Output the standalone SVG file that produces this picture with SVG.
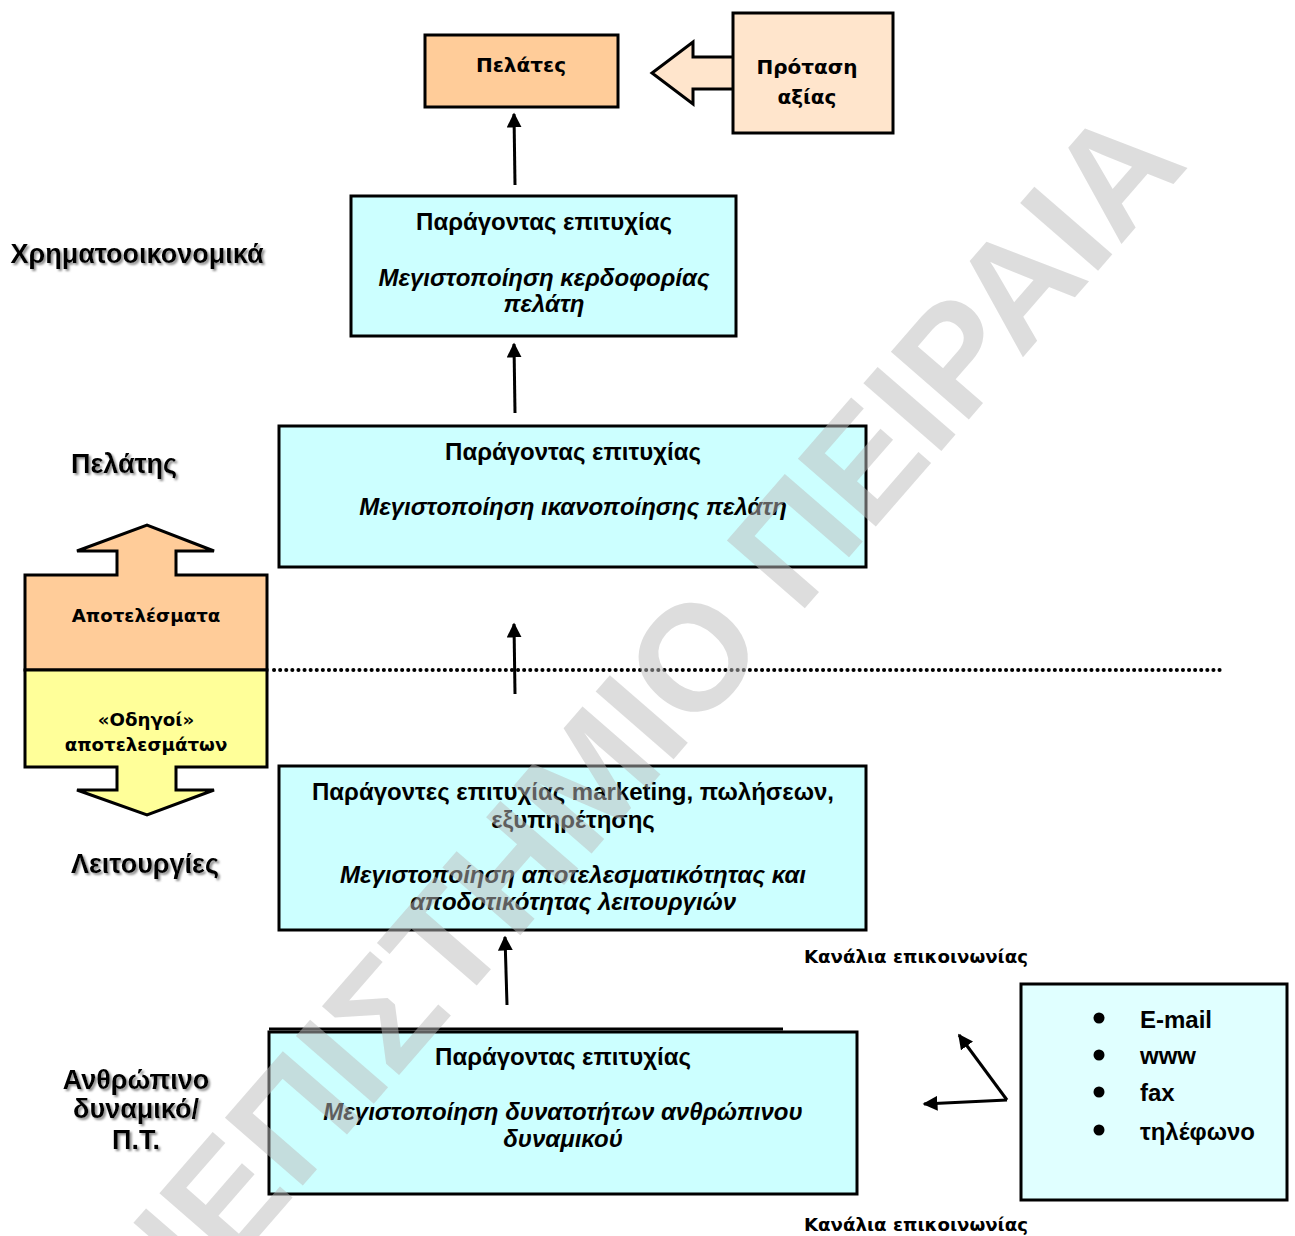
<svg xmlns="http://www.w3.org/2000/svg" width="1295" height="1236" viewBox="0 0 1295 1236">
  <style>
    .box { stroke: #000; stroke-width: 3; }
    .cyan { fill: #ccffff; }
    .t { font-family: "Liberation Sans", Arial, sans-serif; font-weight: bold; font-size: 24px; fill: #000; text-anchor: middle; }
    .ti { font-style: italic; }
    .v { font-family: "DejaVu Sans", Verdana, sans-serif; font-weight: bold; fill: #000; text-anchor: middle; }
    .st { text-anchor: start; }
    .lbl { font-family: "Liberation Sans", Arial, sans-serif; font-weight: bold; font-size: 27px; fill: #000; text-anchor: middle; filter: url(#shadow); }
    .conn { stroke: #000; stroke-width: 3; fill: none; }
    .wm { font-family: "Liberation Sans", Arial, sans-serif; font-weight: bold; font-size: 150px; fill: #bbbbbb; fill-opacity: 0.5; }
  </style>
  <defs>
    <marker id="ah" viewBox="0 0 10 10" refX="9" refY="5" markerWidth="5" markerHeight="5" markerUnits="strokeWidth" orient="auto">
      <path d="M0,0 L10,5 L0,10 z" fill="#000"/>
    </marker>
    <filter id="shadow" x="-10%" y="-20%" width="130%" height="160%">
      <feDropShadow dx="2" dy="2" stdDeviation="0.8" flood-color="#808080" flood-opacity="0.9"/>
    </filter>
  </defs>
  <rect width="1295" height="1236" fill="#fff"/>

  <!-- Row labels -->
  <g id="row-labels">
    <text class="lbl" x="137" y="263">Χρηματοοικονομικά</text>
    <text class="lbl" x="124" y="473">Πελάτης</text>
    <text class="lbl" x="145" y="873">Λειτουργίες</text>
    <text class="lbl" x="136" y="1089">Ανθρώπινο</text>
    <text class="lbl" x="136" y="1118">δυναμικό/</text>
    <text class="lbl" x="136" y="1149">Π.Τ.</text>
  </g>

  <!-- Customers -->
  <g id="customers">
    <rect class="box" x="425" y="35" width="193" height="72" fill="#ffcc99"/>
    <text class="v" x="521" y="72" font-size="20">Πελάτες</text>
  </g>

  <!-- Value proposition with block arrow -->
  <g id="value-proposition">
    <path class="box" d="M733,57 L693,57 L693,42 L652,73 L693,104 L693,89 L733,89" fill="#ffe5cc"/>
    <rect class="box" x="733" y="13" width="160" height="120" fill="#ffe5cc"/>
    <text class="v" x="807" y="74" font-size="20">Πρόταση</text>
    <text class="v" x="807" y="104" font-size="20">αξίας</text>
  </g>

  <!-- Financial success factor -->
  <g id="financial">
    <rect class="box cyan" x="351" y="196" width="385" height="140"/>
    <text class="t" x="544" y="230">Παράγοντας επιτυχίας</text>
    <text class="t ti" x="544" y="286">Μεγιστοποίηση κερδοφορίας</text>
    <text class="t ti" x="544" y="312">πελάτη</text>
  </g>

  <!-- Customer success factor -->
  <g id="customer">
    <rect class="box cyan" x="279" y="426" width="587" height="141"/>
    <text class="t" x="573" y="460">Παράγοντας επιτυχίας</text>
    <text class="t ti" x="573" y="515">Μεγιστοποίηση ικανοποίησης πελάτη</text>
  </g>

  <!-- Results / drivers double arrow -->
  <g id="results-drivers">
    <path class="box" d="M25,670 L25,575 L117,575 L117,551 L77,551 L147,525 L214,551 L176,551 L176,575 L267,575 L267,670 z" fill="#ffcc99"/>
    <path class="box" d="M25,670 L25,767 L117,767 L117,790 L77,790 L147,815 L214,790 L176,790 L176,767 L267,767 L267,670 z" fill="#ffff99"/>
    <text class="v" x="146" y="622" font-size="18.2">Αποτελέσματα</text>
    <text class="v" x="146" y="726" font-size="18.2">«Οδηγοί»</text>
    <text class="v" x="146" y="751" font-size="18.2">αποτελεσμάτων</text>
  </g>

  <!-- Operations success factors -->
  <g id="operations">
    <rect class="box cyan" x="279" y="766" width="587" height="164"/>
    <text class="t" x="573" y="800">Παράγοντες επιτυχίας marketing, πωλήσεων,</text>
    <text class="t" x="573" y="828">εξυπηρέτησης</text>
    <text class="t ti" x="573" y="883">Μεγιστοποίηση αποτελεσματικότητας και</text>
    <text class="t ti" x="573" y="910">αποδοτικότητας λειτουργιών</text>
  </g>

  <!-- Human resources success factor -->
  <g id="human-resources">
    <line x1="269" y1="1029" x2="783" y2="1029" stroke="#000" stroke-width="3"/>
    <rect class="box cyan" x="269" y="1032" width="588" height="162"/>
    <text class="t" x="563" y="1065">Παράγοντας επιτυχίας</text>
    <text class="t ti" x="563" y="1120">Μεγιστοποίηση δυνατοτήτων ανθρώπινου</text>
    <text class="t ti" x="563" y="1147">δυναμικού</text>
  </g>

  <!-- Communication channels -->
  <g id="channels">
    <rect class="box" x="1021" y="984" width="266" height="216" fill="#e0ffff"/>
    <circle cx="1099" cy="1018" r="5.5" fill="#000"/>
    <circle cx="1099" cy="1055" r="5.5" fill="#000"/>
    <circle cx="1099" cy="1092" r="5.5" fill="#000"/>
    <circle cx="1099" cy="1130" r="5.5" fill="#000"/>
    <text class="t st" x="1140" y="1028">E-mail</text>
    <text class="t st" x="1140" y="1064">www</text>
    <text class="t st" x="1140" y="1101">fax</text>
    <text class="t st" x="1140" y="1140">τηλέφωνο</text>
  </g>
  <g id="channel-labels">
    <text class="v st" x="804" y="963" font-size="18.2">Κανάλια επικοινωνίας</text>
    <text class="v st" x="804" y="1231" font-size="18.2">Κανάλια επικοινωνίας</text>
  </g>

  <!-- Section divider -->
  <line x1="274" y1="670" x2="1222" y2="670" stroke="#000" stroke-width="4" stroke-dasharray="0.1 6" stroke-linecap="round"/>

  <!-- Connectors -->
  <g id="connectors">
    <line class="conn" x1="515" y1="185" x2="514" y2="114" marker-end="url(#ah)"/>
    <line class="conn" x1="515" y1="413" x2="514" y2="344" marker-end="url(#ah)"/>
    <line class="conn" x1="515" y1="694" x2="514" y2="624" marker-end="url(#ah)"/>
    <line class="conn" x1="507" y1="1005" x2="505" y2="937" marker-end="url(#ah)"/>
    <path class="conn" d="M1007,1100 L959,1035" marker-end="url(#ah)"/>
    <path class="conn" d="M1007,1100 L924,1104" marker-end="url(#ah)"/>
  </g>

  <!-- Watermark -->
  <text class="wm" transform="translate(1190,165) rotate(-49)" text-anchor="end">ΠΑΝΕΠΙΣΤΗΜΙΟ ΠΕΙΡΑΙΑ</text>
</svg>
